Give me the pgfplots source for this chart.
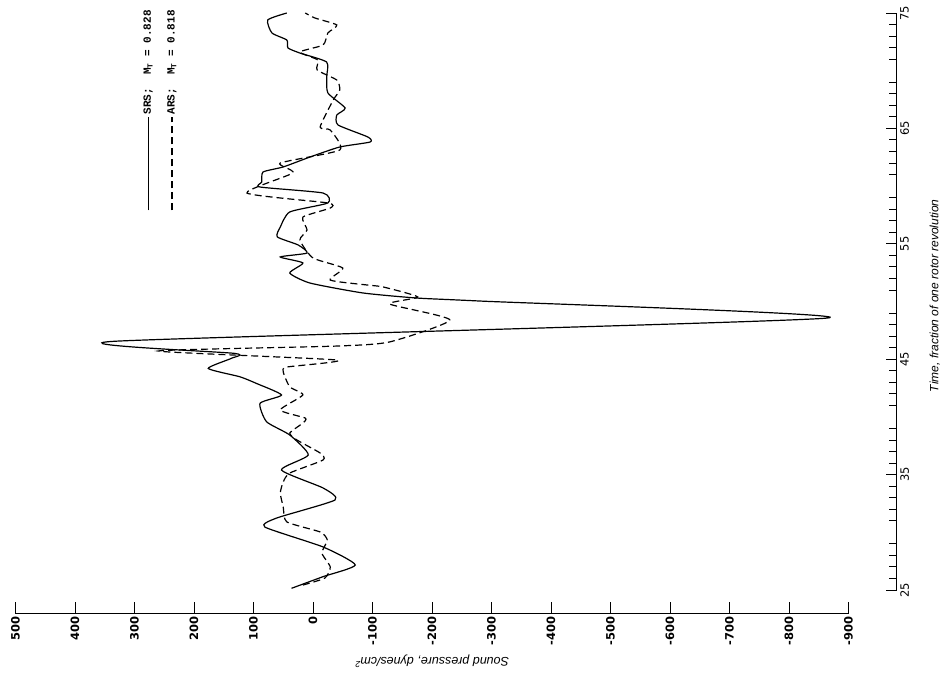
\documentclass[border=0pt]{standalone}
\usepackage{pgfplots}
\usepackage{pgfplotstable}
\pgfplotsset{compat=1.18}
\usepackage{fontspec}
\setmainfont{Liberation Sans}
\newfontfamily\tickfont{DejaVu Sans}
\newfontfamily\legendfont{Liberation Mono}

% time (fraction of one rotor revolution), sound pressure (dynes/cm^2)
\pgfplotstableread{
t p
25.15 36
26.16 -17
27.17 -71
28.73 -17
30.46 81
31.24 61
32.80 -37
33.84 -17
35.40 53
36.70 8
38.43 39
39.58 78
41.18 89
41.90 53
42.90 95
43.48 123
44.20 176
45.08 137
45.50 131
46.55 335
48.57 -865
50.04 -281
50.30 -175
50.74 -84
51.60 5
52.47 39
53.34 17
53.86 55
54.20 10
54.90 25
55.60 60
56.45 55
57.76 39
58.54 -25
59.40 -17
59.92 89
60.36 86
61.22 84
61.66 50
62.52 5
63.39 -45
63.82 -96
64.26 -92
65.30 -42
66.16 -40
66.77 -54
68.07 -25
69.45 -23
70.75 -23
71.53 22
71.97 42
72.66 44
73.27 69
74.40 76
75.00 44
}\srs

\pgfplotstableread{
t p
25.43 17
26.04 -20
27.00 -29
28.20 -15
29.33 -24
30.03 -12
30.90 44
32.19 50
33.40 55
34.36 50
35.14 39
36.27 -17
36.87 -12
38.00 27
38.60 39
39.47 17
39.90 13
40.60 55
41.90 17
42.60 39
43.90 50
44.32 44
44.93 -40
45.71 260
46.14 -40
46.50 -129
48.40 -230
49.78 -129
50.39 -176
51.26 -118
51.43 -91
51.86 -29
52.90 -50
53.77 0
55.33 22
56.20 10
57.32 17
58.10 -29
58.54 -25
59.40 111
61.14 34
62.00 55
63.13 -45
64.86 -29
65.12 -12
67.46 -34
68.33 -45
69.19 -40
70.06 -7
70.93 -8
71.62 22
72.23 -17
73.27 -25
73.96 -40
74.57 -3
75.00 13
}\ars

\begin{document}
\begin{tikzpicture}
\begin{axis}[
  x=0.595pt, y=11.54pt,
  x dir=reverse,
  xmin=-981, xmax=500, ymin=23, ymax=75,
  axis x line*=bottom, axis y line*=right,
  axis line style={draw=none},
  xtick={-900,-800,...,500},
  ytick={25,35,...,75},
  tick align=inside,
  major tick length=11pt,
  every tick/.style={black, line width=0.8pt},
  /pgf/number format/assume math mode=true,
  xticklabel style={rotate=90, anchor=east, font=\tickfont\bfseries\fontsize{11.5}{12}\selectfont},
  yticklabel style={rotate=90, anchor=north, font=\tickfont\fontsize{11.5}{12}\selectfont},
  clip=false,
]
% separate axis lines
\draw[black, line width=0.8pt] (axis cs:500,23) -- (axis cs:-900,23);
\draw[black, line width=0.8pt] (axis cs:-981,25) -- (axis cs:-981,75);
% unit ticks along the time axis
\pgfplotsinvokeforeach{26,27,28,29,31,32,33,34,36,37,38,39,41,42,43,44,46,47,48,49,51,52,53,54,56,57,58,59,61,62,63,64,66,67,68,69,71,72,73,74}{
  \draw[black, line width=0.9pt] (axis cs:-981,#1) -- (axis cs:-968,#1);
}

\addplot[black, line width=1.2pt, smooth, tension=0.35] table[x=p, y=t] {\srs};
\addplot[black, line width=1.2pt, smooth, tension=0.35, dash pattern=on 7pt off 4pt] table[x=p, y=t] {\ars};

% legend
\draw[black, line width=1.2pt] (axis cs:277,57.9) -- (axis cs:277,66.0);
\draw[black, line width=1.2pt, dash pattern=on 7pt off 4pt] (axis cs:237,57.9) -- (axis cs:237,66.0);
\node[rotate=90, anchor=west, inner sep=1pt, font=\legendfont\bfseries\fontsize{11}{12}\selectfont]
  at (axis cs:277,66.1) {SRS;\ \ M\textsubscript{T} = 0.828};
\node[rotate=90, anchor=west, inner sep=1pt, font=\legendfont\bfseries\fontsize{11}{12}\selectfont]
  at (axis cs:237,66.1) {ARS;\ \ M\textsubscript{T} = 0.818};

% axis titles
\node[rotate=180, font=\itshape\fontsize{12.5}{14}\selectfont] at (axis cs:-200,18.85) {Sound pressure, dynes/cm\textsuperscript{2}};
\node[rotate=90, font=\itshape\fontsize{12}{14}\selectfont] at (axis cs:-1045,50.5) {Time, fraction of one rotor revolution};

\coordinate (bbA) at (axis cs:526.05,76.127);
\coordinate (bbB) at (axis cs:-1065.5,17.20);
\end{axis}
\pgfresetboundingbox
\path[use as bounding box] (bbA) rectangle (bbB);
\end{tikzpicture}
\end{document}
